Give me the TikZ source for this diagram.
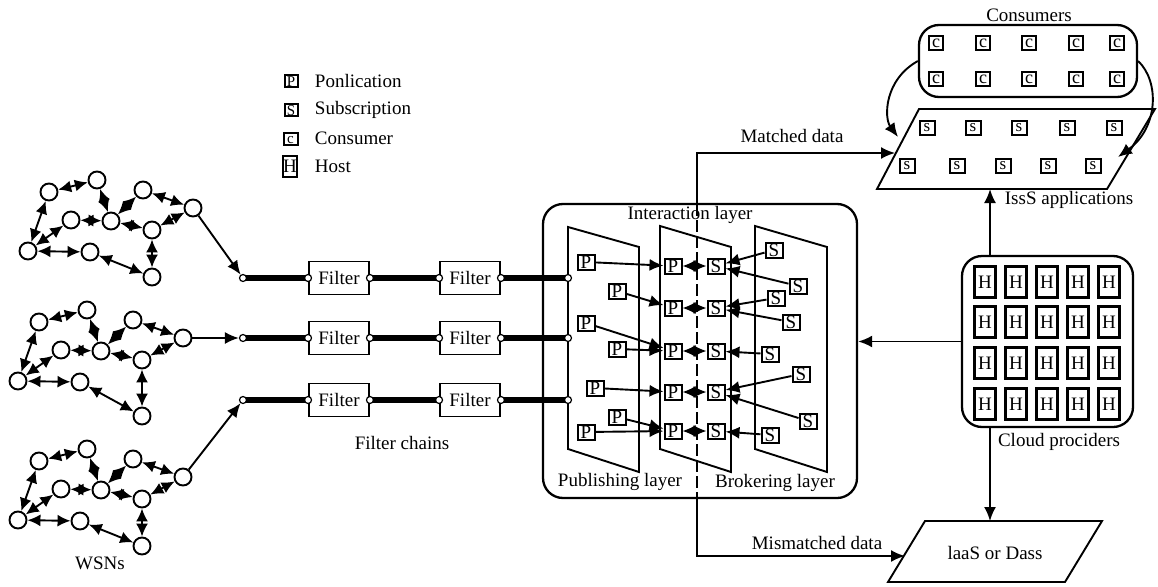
\documentclass[tikz,border=0pt]{standalone}
\usepackage{fontspec}
\setmainfont{Liberation Serif}
\usetikzlibrary{arrows.meta}
\begin{document}
\begin{tikzpicture}[x=1pt,y=-1pt,
  line width=1.9pt,
  font=\fontsize{19}{22}\selectfont,
  arr/.style={-{Latex[length=14pt,width=12pt]}},
  darr/.style={{Latex[length=13pt,width=12pt]}-{Latex[length=13pt,width=12pt]}},
  wsn/.style={circle,draw,fill=white,minimum size=17pt,inner sep=0pt,line width=1.9pt},
  port/.style={circle,draw,fill=white,minimum size=7pt,inner sep=0pt,line width=1.2pt},
  chain/.style={line width=6pt},
  filterbox/.style={draw,fill=white,minimum width=60pt,minimum height=33pt,inner sep=0pt,line width=1.9pt},
  pbox/.style={draw,fill=white,minimum width=17pt,minimum height=15pt,inner sep=0pt,line width=2pt,text height=12pt,text depth=0pt},
  legbox/.style={draw,fill=white,minimum width=13pt,minimum height=12pt,inner sep=0pt,line width=2pt,font=\fontsize{15}{16}\selectfont,text height=10pt,text depth=0pt},
  cbox/.style={draw,fill=white,minimum width=14pt,minimum height=14pt,inner sep=0pt,line width=2pt,font=\fontsize{18}{18}\selectfont},
  sbox/.style={draw,fill=white,minimum width=15pt,minimum height=14pt,inner sep=0pt,line width=2pt,font=\fontsize{17}{18}\selectfont},
  hbox/.style={draw,fill=white,minimum width=21pt,minimum height=31pt,inner sep=0pt,line width=2.2pt},
  roundbox/.style={draw,rounded corners=20pt,inner sep=0pt,line width=2.3pt},
  lbl/.style={inner sep=0pt}
]
\useasboundingbox (0,0) rectangle (1158,586);
\fill[white] (0,0) rectangle (1158,586);

% ---------- legend ----------
\node[legbox] (legP) at (291,81) {P};
\node[lbl,anchor=west] (legPt) at (314,81) {Ponlication};
\node[legbox] (legS) at (291,110) {S};
\node[lbl,anchor=west] (legSt) at (314,110) {Subscription};
\node[legbox,minimum width=14pt] (legC) at (290.5,138.5) {c};
\node[lbl,anchor=west] (legCt) at (314,138) {Consumer};
\node[legbox,minimum width=14pt,minimum height=21pt,font=\fontsize{19}{20}\selectfont,text height=12.5pt] (legH) at (290,166.5) {H};
\node[lbl,anchor=west] (legHt) at (314,166) {Host};

% ---------- WSN clusters ----------
\foreach \k/\dx/\dy/\jy in {1/0/0/277, 2/-10/130/286, 3/-10/269/277}{
  \begin{scope}[shift={(\dx,\dy)}]
    \node[wsn] (w\k-a) at (49,192) {};
    \node[wsn] (w\k-b) at (97,180) {};
    \node[wsn] (w\k-c) at (71,220) {};
    \node[wsn] (w\k-d) at (111,221) {};
    \node[wsn] (w\k-e) at (28,251) {};
    \node[wsn] (w\k-f) at (90,252) {};
    \node[wsn] (w\k-g) at (143,190) {};
    \node[wsn] (w\k-h) at (152,230) {};
    \node[wsn] (w\k-i) at (193,208) {};
    \node[wsn] (w\k-j) at (152,\jy) {};
  \end{scope}
  \draw[darr] (w\k-a) -- (w\k-b);
  \draw[darr] (w\k-e) -- (w\k-a);
  \draw[darr] (w\k-e) -- (w\k-c);
  \draw[darr] (w\k-c) -- (w\k-d);
  \draw[darr] (w\k-b) -- (w\k-d);
  \draw[darr] (w\k-d) -- (w\k-g);
  \draw[darr] (w\k-d) -- (w\k-h);
  \draw[darr] (w\k-g) -- (w\k-i);
  \draw[darr] (w\k-h) -- (w\k-i);
  \draw[darr] (w\k-h) -- (w\k-j);
  \draw[darr] (w\k-e) -- (w\k-f);
  \draw[darr] (w\k-f) -- (w\k-j);
}
\node[lbl] (wsnlbl) at (100,563) {WSNs};

% ---------- central box ----------
\node[roundbox,minimum width=314pt,minimum height=294pt] (ibox) at (700,351) {};

% ---------- filter chains (lines first, then ports on top) ----------
\foreach \r/\y in {1/278, 2/338, 3/400}{
  \coordinate (s\r) at (243,\y);
  \coordinate (lp\r) at (568,\y);
  \node[filterbox] (fa\r) at (339,\y) {Filter};
  \node[filterbox] (fb\r) at (470,\y) {Filter};
  \draw[chain] (s\r) -- (fa\r.west);
  \draw[chain] (fa\r.east) -- (fb\r.west);
  \draw[chain] (fb\r.east) -- (lp\r);
}

\draw (568,227) -- (639,247) -- (639,472) -- (568,449) -- cycle;
\draw (660,226) -- (731,247) -- (731,472) -- (660,449) -- cycle;
\draw (755,226) -- (827,247) -- (827,472) -- (755,449) -- cycle;
\coordinate (dtop) at (697,204);
\coordinate (dbot) at (697,498);
\draw[dash pattern=on 12pt off 4pt] (dtop) -- (dbot);
\node[lbl] (intlbl) at (690,215) {Interaction layer};
\node[lbl] (publbl) at (620,482) {Publishing layer};
\node[lbl] (brolbl) at (775,483) {Brokering layer};

\foreach \r in {1,2,3}{
  \node[port] (sp\r) at (s\r) {};
  \node[port] (fa\r-w) at (fa\r.west) {};
  \node[port] (fa\r-e) at (fa\r.east) {};
  \node[port] (fb\r-w) at (fb\r.west) {};
  \node[port] (fb\r-e) at (fb\r.east) {};
  \node[port] (lpp\r) at (lp\r) {};
}
\draw[arr] (w1-i) -- (sp1);
\draw[arr] (w2-i) -- (sp2);
\draw[arr] (w3-i) -- (sp3);
\node[lbl] (fclbl) at (402,443) {Filter chains};

% ---------- publishing P boxes ----------
\node[pbox] (p1) at (586,262) {P};
\node[pbox] (p2) at (617,291) {P};
\node[pbox] (p3) at (586,323) {P};
\node[pbox] (p4) at (617,349) {P};
\node[pbox] (p5) at (595,388) {P};
\node[pbox] (p6) at (617,417) {P};
\node[pbox] (p7) at (586,432) {P};

% ---------- interaction boxes ----------
\foreach \k/\y in {1/266, 2/308, 3/351, 4/392, 5/431}{
  \node[pbox] (mp\k) at (673,\y) {P};
  \node[pbox] (ms\k) at (716,\y) {S};
  \draw[darr] (mp\k) -- (ms\k);
}

% ---------- brokering S boxes ----------
\node[pbox] (b1) at (774,250) {S};
\node[pbox] (b2) at (798,286) {S};
\node[pbox] (b3) at (776,298) {S};
\node[pbox] (b4) at (791,322) {S};
\node[pbox] (b5) at (770,354) {S};
\node[pbox] (b6) at (801,374) {S};
\node[pbox] (b7) at (808,421) {S};
\node[pbox] (b8) at (770,435) {S};

\draw[arr] (p1) -- (mp1);
\draw[arr] (p2) -- (mp2);
\draw[arr] (p3) -- (mp3);
\draw[arr] (p4) -- (mp3);
\draw[arr] (p5) -- (mp4);
\draw[arr] (p6) -- (mp5);
\draw[arr] (p7) -- (mp5);

\draw[arr] (b1) -- (ms1);
\draw[arr] (b2) -- (ms1);
\draw[arr] (b3) -- (ms2);
\draw[arr] (b4) -- (ms2);
\draw[arr] (b5) -- (ms3);
\draw[arr] (b6) -- (ms4);
\draw[arr] (b7) -- (ms4);
\draw[arr] (b8) -- (ms5);

% ---------- consumers ----------
\node[lbl] (conslbl) at (1029,15) {Consumers};
\node[roundbox,minimum width=218pt,minimum height=72pt] (cons) at (1028,61) {};
\foreach \i/\x in {1/936, 2/983, 3/1029, 4/1076, 5/1117}{
  \node[cbox] (ca\i) at (\x,43) {c};
  \node[cbox] (cb\i) at (\x,79) {c};
}

% ---------- IssS applications ----------
\draw (919,109) -- (1155,109) -- (1107,189) -- (877,189) -- cycle;
\foreach \i/\x in {1/927, 2/973, 3/1019, 4/1067, 5/1114}{
  \node[sbox] (sa\i) at (\x,128) {s};
}
\foreach \i/\x in {1/907, 2/957, 3/1003, 4/1048, 5/1093}{
  \node[sbox] (sb\i) at (\x,166) {s};
}
\node[lbl] (isslbl) at (1069,200) {IssS applications};
\coordinate (issin) at (895,153);
\coordinate (issl) at (898,137);
\coordinate (issr) at (1118,157);
\coordinate (issbot) at (990,189);
\draw[arr] (cons.west) .. controls (884,80) and (884,118) .. (issl);
\draw[arr] (cons.east) .. controls (1160,82) and (1158,128) .. (issr);

% ---------- cloud providers ----------
\node[roundbox,minimum width=171pt,minimum height=171pt] (cloud) at (1047.5,341.5) {};
\foreach \i/\x in {1/985, 2/1016, 3/1047, 4/1078, 5/1109}{
  \foreach \j/\y in {1/282, 2/322, 3/363, 4/404}{
    \node[hbox] (h\i\j) at (\x,\y) {H};
  }
}
\node[lbl] (cloudlbl) at (1059,442) {Cloud prociders};

% ---------- IaaS ----------
\draw (925,521) -- (1102,521) -- (1065,582) -- (888,582) -- cycle;
\node[lbl] (laalbl) at (995,553) {laaS or Dass};
\coordinate (laatop) at (990,521);
\coordinate (laain) at (905,556);

% ---------- connectors ----------
\draw[arr] (dtop) -- (697,153) -- (issin);
\node[lbl] (matchlbl) at (792,136) {Matched data};
\draw[arr] (dbot) -- (697,556) -- (laain);
\node[lbl] (mislbl) at (817,543) {Mismatched data};
\draw[arr] (cloud.north -| issbot) -- (issbot);
\draw[arr] (cloud.south -| laatop) -- (laatop);
\draw[arr] (cloud.west) -- (ibox.east |- cloud.west);
\end{tikzpicture}
\end{document}
